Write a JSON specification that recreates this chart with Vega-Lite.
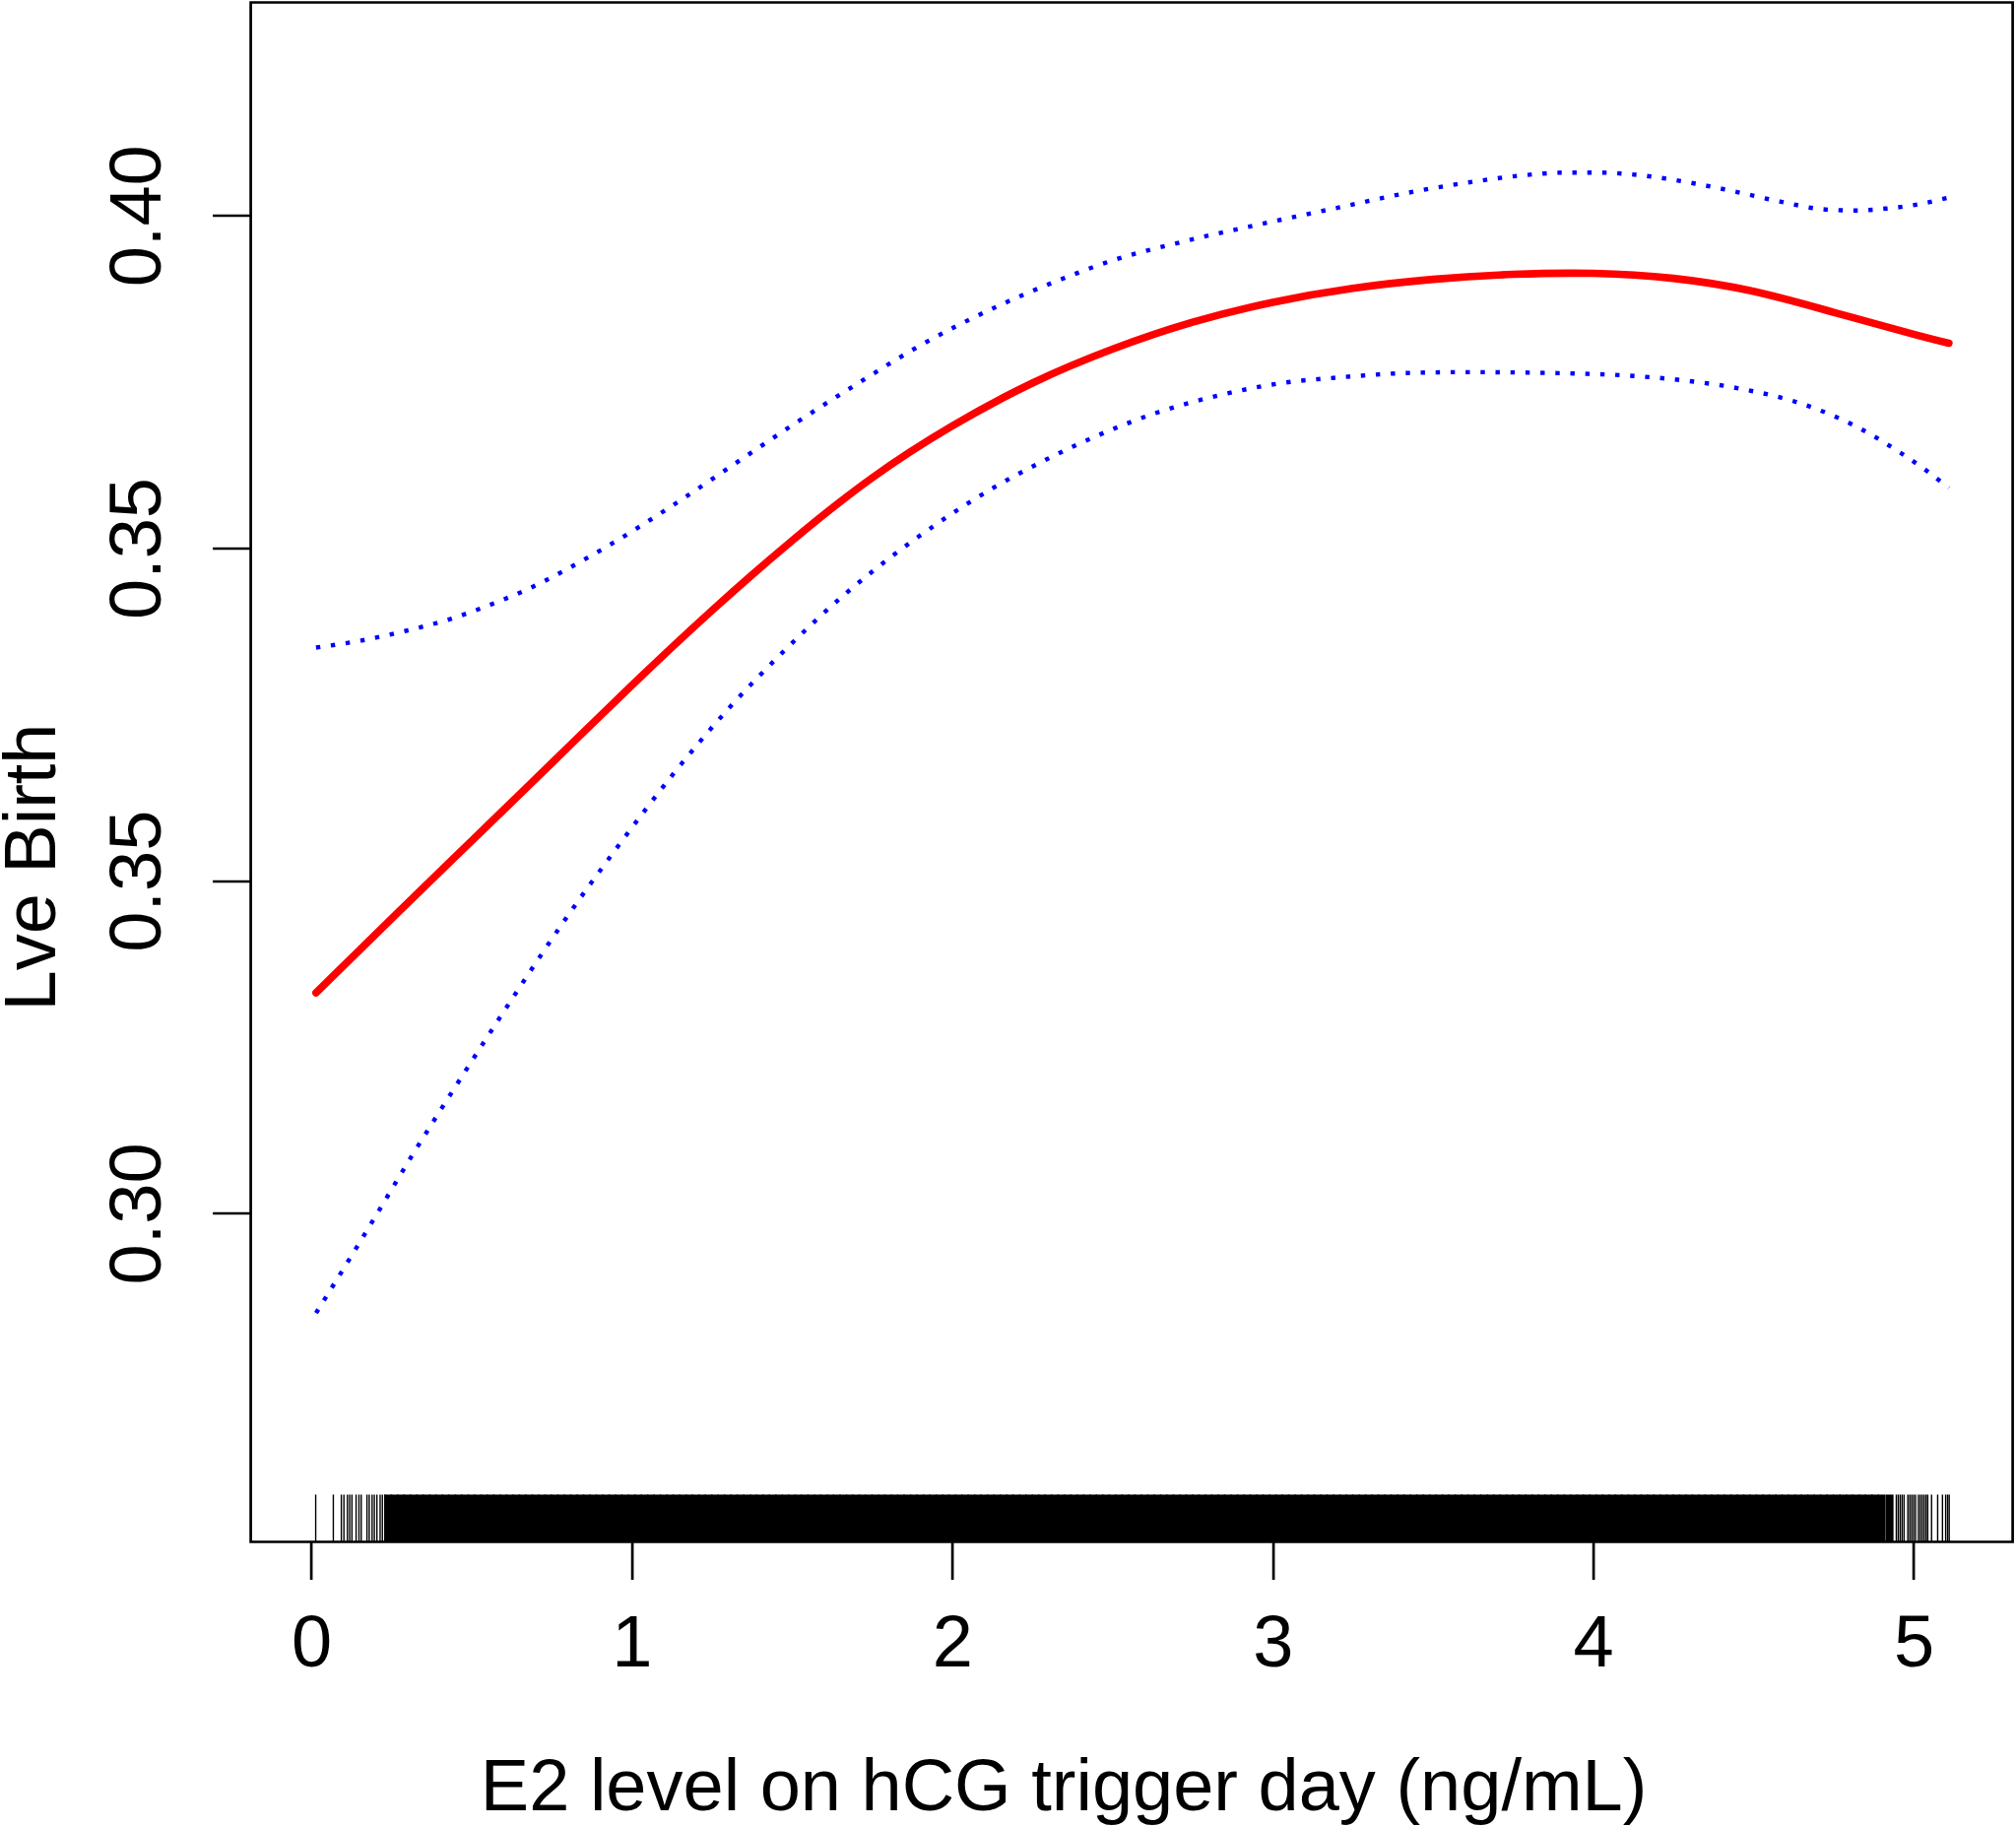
{
  "$schema": "https://vega.github.io/schema/vega-lite/v6.json",
  "width": 1789,
  "height": 1563,
  "autosize": "none",
  "padding": {"left": 254.6, "top": 2.5, "right": 3.4, "bottom": 289.5},
  "background": "white",
  "config": {
    "view": {"stroke": "#000000", "strokeWidth": 2.7},
    "font": "Liberation Sans"
  },
  "datasets": {
    "curves": [
      {"e2": 0.015, "value": 0.3221, "series": "fit"},
      {"e2": 0.25, "value": 0.3295, "series": "fit"},
      {"e2": 0.5, "value": 0.3373, "series": "fit"},
      {"e2": 0.75, "value": 0.3451, "series": "fit"},
      {"e2": 1.0, "value": 0.3529, "series": "fit"},
      {"e2": 1.25, "value": 0.3604, "series": "fit"},
      {"e2": 1.5, "value": 0.3674, "series": "fit"},
      {"e2": 1.75, "value": 0.3737, "series": "fit"},
      {"e2": 2.0, "value": 0.3789, "series": "fit"},
      {"e2": 2.25, "value": 0.3832, "series": "fit"},
      {"e2": 2.5, "value": 0.3866, "series": "fit"},
      {"e2": 2.75, "value": 0.3893, "series": "fit"},
      {"e2": 3.0, "value": 0.3913, "series": "fit"},
      {"e2": 3.25, "value": 0.3927, "series": "fit"},
      {"e2": 3.5, "value": 0.3936, "series": "fit"},
      {"e2": 3.75, "value": 0.3941, "series": "fit"},
      {"e2": 4.0, "value": 0.3942, "series": "fit"},
      {"e2": 4.25, "value": 0.3937, "series": "fit"},
      {"e2": 4.5, "value": 0.3924, "series": "fit"},
      {"e2": 4.75, "value": 0.3903, "series": "fit"},
      {"e2": 5.0, "value": 0.3881, "series": "fit"},
      {"e2": 5.11, "value": 0.3872, "series": "fit"},
      {"e2": 0.015, "value": 0.3567, "series": "upper"},
      {"e2": 0.156, "value": 0.3574, "series": "upper"},
      {"e2": 0.299, "value": 0.3584, "series": "upper"},
      {"e2": 0.438, "value": 0.3596, "series": "upper"},
      {"e2": 0.527, "value": 0.3606, "series": "upper"},
      {"e2": 0.665, "value": 0.3624, "series": "upper"},
      {"e2": 0.916, "value": 0.3667, "series": "upper"},
      {"e2": 1.121, "value": 0.3708, "series": "upper"},
      {"e2": 1.321, "value": 0.3751, "series": "upper"},
      {"e2": 1.521, "value": 0.3794, "series": "upper"},
      {"e2": 1.722, "value": 0.3835, "series": "upper"},
      {"e2": 1.885, "value": 0.3867, "series": "upper"},
      {"e2": 2.148, "value": 0.391, "series": "upper"},
      {"e2": 2.324, "value": 0.3934, "series": "upper"},
      {"e2": 2.501, "value": 0.3955, "series": "upper"},
      {"e2": 2.736, "value": 0.3975, "series": "upper"},
      {"e2": 2.972, "value": 0.3992, "series": "upper"},
      {"e2": 3.206, "value": 0.4008, "series": "upper"},
      {"e2": 3.442, "value": 0.4024, "series": "upper"},
      {"e2": 3.629, "value": 0.4034, "series": "upper"},
      {"e2": 3.773, "value": 0.404, "series": "upper"},
      {"e2": 3.915, "value": 0.4043, "series": "upper"},
      {"e2": 4.013, "value": 0.4043, "series": "upper"},
      {"e2": 4.156, "value": 0.404, "series": "upper"},
      {"e2": 4.3, "value": 0.4033, "series": "upper"},
      {"e2": 4.442, "value": 0.4024, "series": "upper"},
      {"e2": 4.583, "value": 0.4014, "series": "upper"},
      {"e2": 4.725, "value": 0.4006, "series": "upper"},
      {"e2": 4.82, "value": 0.4005, "series": "upper"},
      {"e2": 4.916, "value": 0.4007, "series": "upper"},
      {"e2": 5.012, "value": 0.4011, "series": "upper"},
      {"e2": 5.11, "value": 0.4018, "series": "upper"},
      {"e2": 0.015, "value": 0.29, "series": "lower"},
      {"e2": 0.165, "value": 0.2978, "series": "lower"},
      {"e2": 0.315, "value": 0.3058, "series": "lower"},
      {"e2": 0.468, "value": 0.3136, "series": "lower"},
      {"e2": 0.625, "value": 0.3214, "series": "lower"},
      {"e2": 0.785, "value": 0.3291, "series": "lower"},
      {"e2": 0.953, "value": 0.3366, "series": "lower"},
      {"e2": 1.129, "value": 0.344, "series": "lower"},
      {"e2": 1.3, "value": 0.3505, "series": "lower"},
      {"e2": 1.483, "value": 0.3566, "series": "lower"},
      {"e2": 1.66, "value": 0.3619, "series": "lower"},
      {"e2": 1.81, "value": 0.3658, "series": "lower"},
      {"e2": 1.966, "value": 0.3694, "series": "lower"},
      {"e2": 2.128, "value": 0.3727, "series": "lower"},
      {"e2": 2.297, "value": 0.3756, "series": "lower"},
      {"e2": 2.472, "value": 0.3782, "series": "lower"},
      {"e2": 2.654, "value": 0.3804, "series": "lower"},
      {"e2": 2.836, "value": 0.382, "series": "lower"},
      {"e2": 3.027, "value": 0.3832, "series": "lower"},
      {"e2": 3.219, "value": 0.3838, "series": "lower"},
      {"e2": 3.409, "value": 0.3842, "series": "lower"},
      {"e2": 3.601, "value": 0.3843, "series": "lower"},
      {"e2": 3.89, "value": 0.3842, "series": "lower"},
      {"e2": 4.083, "value": 0.384, "series": "lower"},
      {"e2": 4.274, "value": 0.3835, "series": "lower"},
      {"e2": 4.466, "value": 0.3826, "series": "lower"},
      {"e2": 4.654, "value": 0.3811, "series": "lower"},
      {"e2": 4.83, "value": 0.3787, "series": "lower"},
      {"e2": 4.955, "value": 0.3763, "series": "lower"},
      {"e2": 5.033, "value": 0.3746, "series": "lower"},
      {"e2": 5.11, "value": 0.3727, "series": "lower"}
    ],
    "rug_single": [
      {"e2": 0.014}, {"e2": 0.069}, {"e2": 0.094}, {"e2": 0.102}, {"e2": 0.113},
      {"e2": 0.12}, {"e2": 0.127}, {"e2": 0.14}, {"e2": 0.149}, {"e2": 0.156},
      {"e2": 0.174}, {"e2": 0.181}, {"e2": 0.19}, {"e2": 0.197}, {"e2": 0.205},
      {"e2": 0.215}, {"e2": 0.222}, {"e2": 0.23},
      {"e2": 4.946}, {"e2": 4.952}, {"e2": 4.958}, {"e2": 4.964}, {"e2": 4.97},
      {"e2": 4.982}, {"e2": 4.988}, {"e2": 4.994}, {"e2": 5.0}, {"e2": 5.006},
      {"e2": 5.015}, {"e2": 5.021}, {"e2": 5.027}, {"e2": 5.033}, {"e2": 5.039},
      {"e2": 5.044}, {"e2": 5.056}, {"e2": 5.075}, {"e2": 5.09}, {"e2": 5.1},
      {"e2": 5.106}, {"e2": 5.111}
    ],
    "rug_dense": [
      {"e2": 0.24}, {"e2": 0.26}, {"e2": 0.28}, {"e2": 0.30}, {"e2": 0.32}, {"e2": 0.34}, {"e2": 0.36}, {"e2": 0.38},
      {"e2": 0.40}, {"e2": 0.42}, {"e2": 0.44}, {"e2": 0.46}, {"e2": 0.48}, {"e2": 0.50}, {"e2": 0.52}, {"e2": 0.54},
      {"e2": 0.56}, {"e2": 0.58}, {"e2": 0.60}, {"e2": 0.62}, {"e2": 0.64}, {"e2": 0.66}, {"e2": 0.68}, {"e2": 0.70},
      {"e2": 0.72}, {"e2": 0.74}, {"e2": 0.76}, {"e2": 0.78}, {"e2": 0.80}, {"e2": 0.82}, {"e2": 0.84}, {"e2": 0.86},
      {"e2": 0.88}, {"e2": 0.90}, {"e2": 0.92}, {"e2": 0.94}, {"e2": 0.96}, {"e2": 0.98}, {"e2": 1.00}, {"e2": 1.02},
      {"e2": 1.04}, {"e2": 1.06}, {"e2": 1.08}, {"e2": 1.10}, {"e2": 1.12}, {"e2": 1.14}, {"e2": 1.16}, {"e2": 1.18},
      {"e2": 1.20}, {"e2": 1.22}, {"e2": 1.24}, {"e2": 1.26}, {"e2": 1.28}, {"e2": 1.30}, {"e2": 1.32}, {"e2": 1.34},
      {"e2": 1.36}, {"e2": 1.38}, {"e2": 1.40}, {"e2": 1.42}, {"e2": 1.44}, {"e2": 1.46}, {"e2": 1.48}, {"e2": 1.50},
      {"e2": 1.52}, {"e2": 1.54}, {"e2": 1.56}, {"e2": 1.58}, {"e2": 1.60}, {"e2": 1.62}, {"e2": 1.64}, {"e2": 1.66},
      {"e2": 1.68}, {"e2": 1.70}, {"e2": 1.72}, {"e2": 1.74}, {"e2": 1.76}, {"e2": 1.78}, {"e2": 1.80}, {"e2": 1.82},
      {"e2": 1.84}, {"e2": 1.86}, {"e2": 1.88}, {"e2": 1.90}, {"e2": 1.92}, {"e2": 1.94}, {"e2": 1.96}, {"e2": 1.98},
      {"e2": 2.00}, {"e2": 2.02}, {"e2": 2.04}, {"e2": 2.06}, {"e2": 2.08}, {"e2": 2.10}, {"e2": 2.12}, {"e2": 2.14},
      {"e2": 2.16}, {"e2": 2.18}, {"e2": 2.20}, {"e2": 2.22}, {"e2": 2.24}, {"e2": 2.26}, {"e2": 2.28}, {"e2": 2.30},
      {"e2": 2.32}, {"e2": 2.34}, {"e2": 2.36}, {"e2": 2.38}, {"e2": 2.40}, {"e2": 2.42}, {"e2": 2.44}, {"e2": 2.46},
      {"e2": 2.48}, {"e2": 2.50}, {"e2": 2.52}, {"e2": 2.54}, {"e2": 2.56}, {"e2": 2.58}, {"e2": 2.60}, {"e2": 2.62},
      {"e2": 2.64}, {"e2": 2.66}, {"e2": 2.68}, {"e2": 2.70}, {"e2": 2.72}, {"e2": 2.74}, {"e2": 2.76}, {"e2": 2.78},
      {"e2": 2.80}, {"e2": 2.82}, {"e2": 2.84}, {"e2": 2.86}, {"e2": 2.88}, {"e2": 2.90}, {"e2": 2.92}, {"e2": 2.94},
      {"e2": 2.96}, {"e2": 2.98}, {"e2": 3.00}, {"e2": 3.02}, {"e2": 3.04}, {"e2": 3.06}, {"e2": 3.08}, {"e2": 3.10},
      {"e2": 3.12}, {"e2": 3.14}, {"e2": 3.16}, {"e2": 3.18}, {"e2": 3.20}, {"e2": 3.22}, {"e2": 3.24}, {"e2": 3.26},
      {"e2": 3.28}, {"e2": 3.30}, {"e2": 3.32}, {"e2": 3.34}, {"e2": 3.36}, {"e2": 3.38}, {"e2": 3.40}, {"e2": 3.42},
      {"e2": 3.44}, {"e2": 3.46}, {"e2": 3.48}, {"e2": 3.50}, {"e2": 3.52}, {"e2": 3.54}, {"e2": 3.56}, {"e2": 3.58},
      {"e2": 3.60}, {"e2": 3.62}, {"e2": 3.64}, {"e2": 3.66}, {"e2": 3.68}, {"e2": 3.70}, {"e2": 3.72}, {"e2": 3.74},
      {"e2": 3.76}, {"e2": 3.78}, {"e2": 3.80}, {"e2": 3.82}, {"e2": 3.84}, {"e2": 3.86}, {"e2": 3.88}, {"e2": 3.90},
      {"e2": 3.92}, {"e2": 3.94}, {"e2": 3.96}, {"e2": 3.98}, {"e2": 4.00}, {"e2": 4.02}, {"e2": 4.04}, {"e2": 4.06},
      {"e2": 4.08}, {"e2": 4.10}, {"e2": 4.12}, {"e2": 4.14}, {"e2": 4.16}, {"e2": 4.18}, {"e2": 4.20}, {"e2": 4.22},
      {"e2": 4.24}, {"e2": 4.26}, {"e2": 4.28}, {"e2": 4.30}, {"e2": 4.32}, {"e2": 4.34}, {"e2": 4.36}, {"e2": 4.38},
      {"e2": 4.40}, {"e2": 4.42}, {"e2": 4.44}, {"e2": 4.46}, {"e2": 4.48}, {"e2": 4.50}, {"e2": 4.52}, {"e2": 4.54},
      {"e2": 4.56}, {"e2": 4.58}, {"e2": 4.60}, {"e2": 4.62}, {"e2": 4.64}, {"e2": 4.66}, {"e2": 4.68}, {"e2": 4.70},
      {"e2": 4.72}, {"e2": 4.74}, {"e2": 4.76}, {"e2": 4.78}, {"e2": 4.80}, {"e2": 4.82}, {"e2": 4.84}, {"e2": 4.86},
      {"e2": 4.88}, {"e2": 4.90}, {"e2": 4.925}
    ]
  },
  "encoding": {
    "x": {
      "field": "e2",
      "type": "quantitative",
      "scale": {"domain": [-0.1887, 5.309], "nice": false, "zero": false},
      "axis": {
        "values": [0, 1, 2, 3, 4, 5],
        "format": "d",
        "domain": false,
        "grid": false,
        "tickSize": 38,
        "tickWidth": 2.7,
        "tickColor": "#000000",
        "labelFont": "Liberation Sans",
        "labelFontSize": 74,
        "labelColor": "#000000",
        "labelBaseline": "alphabetic",
        "labelPadding": 88,
        "labelFlush": false,
        "labelOverlap": false,
        "title": "E2 level on hCG trigger day (ng/mL)",
        "titleFont": "Liberation Sans",
        "titleFontSize": 74,
        "titleFontWeight": "normal",
        "titleColor": "#000000",
        "titleX": 825,
        "titleY": 272,
        "titleAlign": "center",
        "titleBaseline": "alphabetic"
      }
    }
  },
  "layer": [
    {
      "data": {"name": "curves"},
      "transform": [{"filter": "datum.series == 'fit'"}],
      "mark": {"type": "line", "color": "#FF0000", "strokeWidth": 7.6, "strokeCap": "round", "interpolate": "natural"},
      "encoding": {
        "y": {
          "field": "value",
          "type": "quantitative",
          "scale": {"domain": [0.26707, 0.42135], "nice": false, "zero": false},
          "axis": {
            "values": [0.3, 0.333333, 0.366667, 0.4],
            "labelExpr": "datum.value > 0.39 ? '0.40' : (datum.value > 0.31 ? '0.35' : '0.30')",
            "domain": false,
            "grid": false,
            "tickSize": 39,
            "tickWidth": 2.7,
            "tickColor": "#000000",
            "labelFont": "Liberation Sans",
            "labelFontSize": 74,
            "labelColor": "#000000",
            "labelAngle": -90,
            "labelAlign": "center",
            "labelBaseline": "alphabetic",
            "labelPadding": 53.3,
            "labelFlush": false,
            "labelOverlap": false,
            "titleFont": "Liberation Sans",
            "titleFontSize": 74,
            "titleFontWeight": "normal",
            "titleColor": "#000000",
            "titleAngle": -90,
            "titleX": -199,
            "titleY": 877.5,
            "titleAlign": "center",
            "titleBaseline": "alphabetic"
          },
          "title": "Lve Birth"
        }
      }
    },
    {
      "data": {"name": "rug_dense"},
      "mark": {"type": "rule", "color": "#000000", "strokeWidth": 8},
      "encoding": {
        "y": {"datum": 0.27181, "type": "quantitative", "title": "Lve Birth"},
        "y2": {"datum": 0.26707}
      }
    },
    {
      "data": {"name": "rug_single"},
      "mark": {"type": "rule", "color": "#000000", "strokeWidth": 1.4},
      "encoding": {
        "y": {"datum": 0.27181, "type": "quantitative", "title": "Lve Birth"},
        "y2": {"datum": 0.26707}
      }
    },
    {
      "data": {"name": "curves"},
      "transform": [{"filter": "datum.series == 'upper'"}],
      "mark": {"type": "line", "color": "#0000FF", "strokeWidth": 4.4, "strokeDash": [4.4, 10.8], "interpolate": "monotone"},
      "encoding": {
        "y": {"field": "value", "type": "quantitative", "title": "Lve Birth"}
      }
    },
    {
      "data": {"name": "curves"},
      "transform": [{"filter": "datum.series == 'lower'"}],
      "mark": {"type": "line", "color": "#0000FF", "strokeWidth": 4.4, "strokeDash": [4.4, 10.8], "interpolate": "monotone"},
      "encoding": {
        "y": {"field": "value", "type": "quantitative", "title": "Lve Birth"}
      }
    }
  ]
}
